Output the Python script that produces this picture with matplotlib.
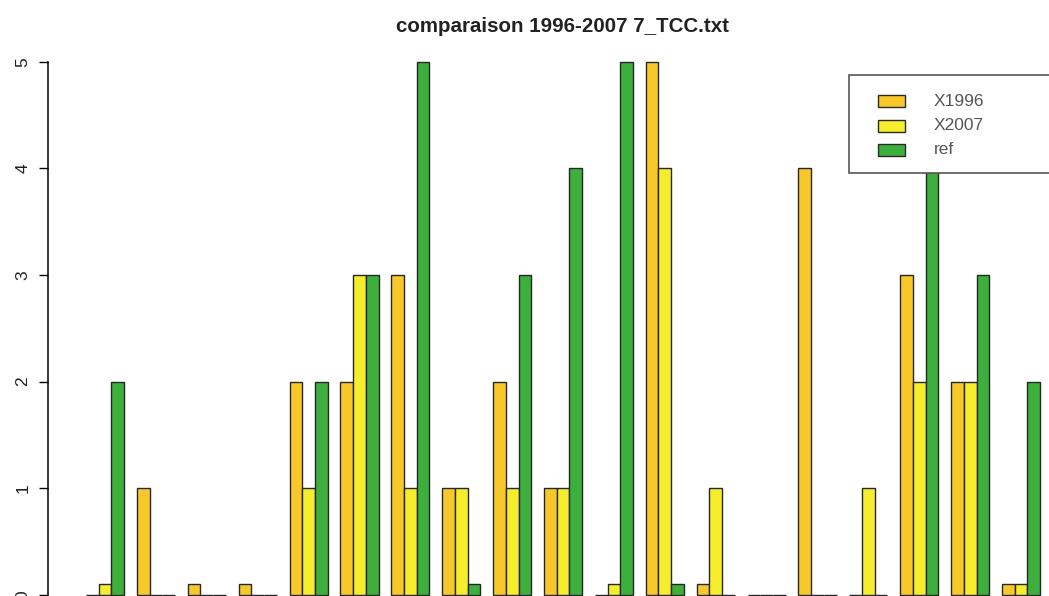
import matplotlib
matplotlib.use("Agg")
import matplotlib.pyplot as plt
from matplotlib.patches import Rectangle
import numpy as np

# ---- data ----
series_names = ["X1996", "X2007", "ref"]
x1996 = [0, 1, 0.1, 0.1, 2, 2, 3, 1, 2, 1, 0, 5, 0.1, 0, 4, 0, 3, 2, 0.1]
x2007 = [0.1, 0, 0, 0, 1, 3, 1, 1, 1, 1, 0.1, 4, 1, 0, 0, 1, 2, 2, 0.1]
ref = [2, 0, 0, 0, 2, 3, 5, 0.1, 3, 4, 5, 0.1, 0, 0, 0, 0, 4, 3, 2]
yticks = [0, 1, 2, 3, 4, 5]
title = "comparaison 1996-2007 7_TCC.txt"

colors = ["#F8C82A", "#F6EE2C", "#3DAF3D"]

W, H = 1049, 596
fig = plt.figure(figsize=(W / 100, H / 100), dpi=100)
plt.rcParams['font.family'] = ['Liberation Sans', 'DejaVu Sans']

# layout in pixels
x_left_px = 47.8
xunit = 12.722
y0_px = 594.8
yunit = 106.6
top_px = 40

ax = fig.add_axes([x_left_px / W, 0, 1 - x_left_px / W, 1 - top_px / H])
ax.set_xlim(-2, -2 + (W - x_left_px) / xunit)
ax.set_ylim(-(H - y0_px) / yunit, (y0_px - top_px) / yunit)

ngroups = len(ref)
for j, vals in enumerate([x1996, x2007, ref]):
    lefts = np.arange(ngroups) * 4 + 1 + j
    ax.bar(lefts, vals, width=1, align='edge', color=colors[j],
           edgecolor="#262626", linewidth=1.0, zorder=2)

for s in ["top", "right", "bottom"]:
    ax.spines[s].set_visible(False)
ax.spines["left"].set_bounds(0, 5)
ax.spines["left"].set_linewidth(1.1)
ax.set_xticks([])
ax.set_yticks(yticks)
ax.set_yticklabels([str(t) for t in yticks], rotation=90, va='center')
ax.tick_params(axis='y', length=6.5, width=1.0, pad=6, labelsize=12.5,
               labelcolor="#222222")

# title
fig.text(563 / W, 1 - 31.5 / H, title, ha='center', va='baseline',
         fontsize=14.8, fontweight='bold', color="#222222")

# legend (drawn manually in pixel coordinates)
def px(x, y):
    return x / W, 1 - y / H

bx0, by0, by1 = 849, 75.5, 173
box = Rectangle(px(bx0, by1), (W + 20 - bx0) / W, (by1 - by0) / H,
                transform=fig.transFigure, facecolor='white',
                edgecolor='#555555', linewidth=1.2, zorder=5)
fig.add_artist(box)
rows_y = [101, 126, 150]
for name, c, ry in zip(series_names, colors, rows_y):
    kx, ky = px(878, ry + 6)
    fig.add_artist(Rectangle((kx, ky), 27 / W, 12 / H, transform=fig.transFigure,
                             facecolor=c, edgecolor='#2a2a2a', linewidth=1.0,
                             zorder=6))
    tx, ty = px(934, ry)
    fig.text(tx, ty, name, ha='left', va='center', fontsize=12.5,
             color='#555555', zorder=7)

fig.savefig("out.png", dpi=100)
